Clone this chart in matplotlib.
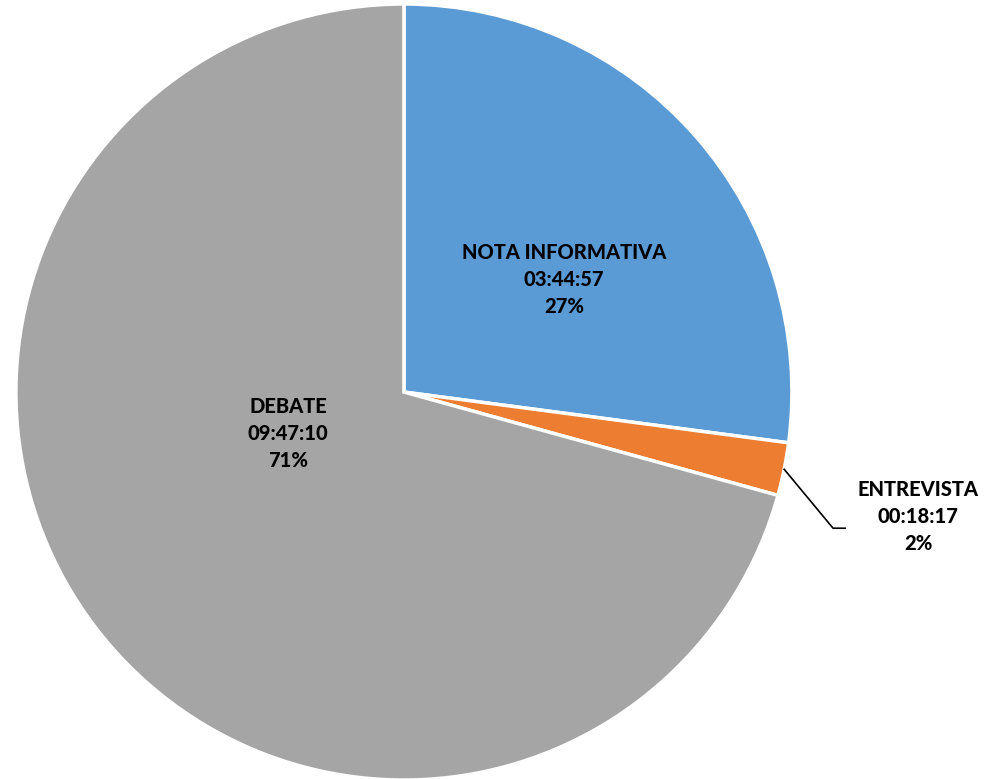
import numpy as np
import matplotlib
matplotlib.use("Agg")
import matplotlib.pyplot as plt
from matplotlib import font_manager

# data
categories = ["NOTA INFORMATIVA", "ENTREVISTA", "DEBATE"]
durations = ["03:44:57", "00:18:17", "09:47:10"]
percents = ["27%", "2%", "71%"]
colors = ["#5B9BD5", "#ED7D31", "#A5A5A5"]


def to_seconds(s):
    h, m, sec = s.split(":")
    return int(h) * 3600 + int(m) * 60 + int(sec)


values = [to_seconds(d) for d in durations]

print(sorted(set((f.name, f.weight) for f in font_manager.fontManager.ttflist if f.name in ("Lato", "Open Sans", "Roboto", "Inter"))))

plt.rcParams['font.family'] = ['Lato', 'DejaVu Sans']

fig = plt.figure(figsize=(9.84, 7.79), dpi=100)
ax = fig.add_axes([0, 0, 1, 1])

wedges, _ = ax.pie(values, colors=colors, startangle=90, counterclock=False,
                   radius=1, wedgeprops=dict(edgecolor="white", linewidth=2.5))

ax.set_xlim(-1.041, 1.495)
ax.set_ylim(-0.997, 1.010)
ax.set_aspect("equal")
ax.axis("off")

# label positions (in radius units)
label_pos = [(0.412, 0.291), (1.325, -0.322), (-0.299, -0.106)]
for i, (x, y) in enumerate(label_pos):
    txt = categories[i] + "\n" + durations[i] + "\n" + percents[i]
    ax.text(x, y, txt, ha="center", va="center", fontsize=14.5, fontweight=900,
            color="black", linespacing=1.5)

# leader line for the small slice
w = wedges[1]
mid = np.deg2rad((w.theta1 + w.theta2) / 2)
x0, y0 = np.cos(mid), np.sin(mid)
ax.plot([x0, 1.106, 1.137], [y0, -0.351, -0.351], color="black", linewidth=1.2)

fig.savefig("out.png", dpi=100)
